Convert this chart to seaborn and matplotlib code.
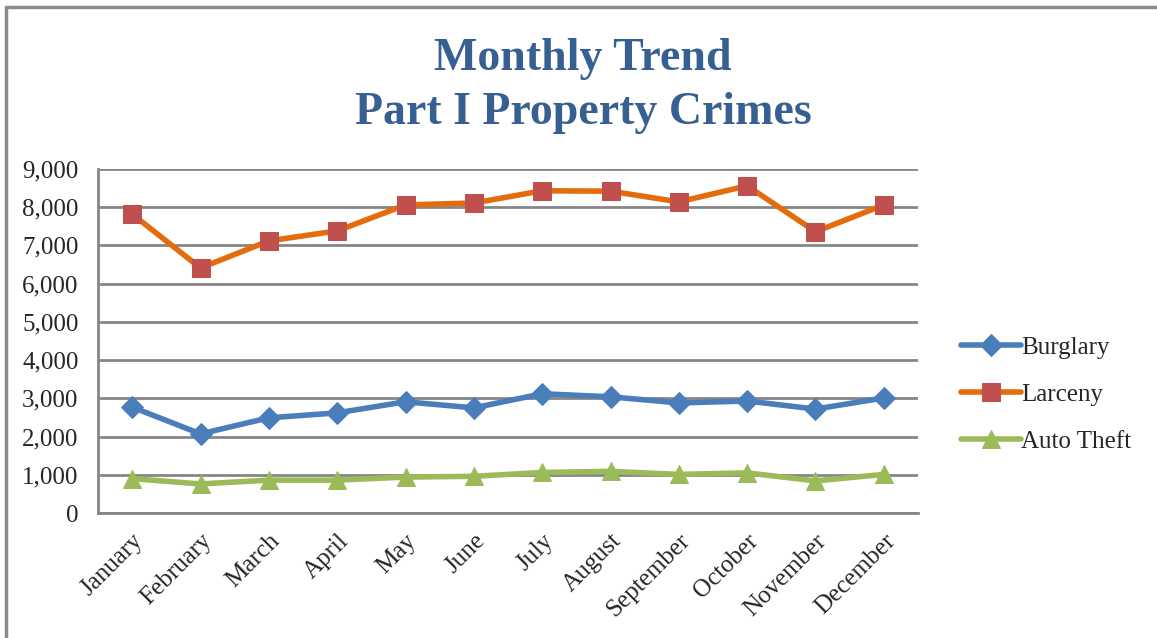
import matplotlib
matplotlib.use("Agg")
import matplotlib.pyplot as plt
from matplotlib.lines import Line2D
import seaborn as sns
import pandas as pd

meses = ['January', 'February', 'March', 'April', 'May', 'June', 'July',
         'August', 'September', 'October', 'November', 'December']
burglary = [2770, 2070, 2490, 2620, 2910, 2750, 3120, 3040, 2880, 2930, 2720, 3010]
larceny = [7820, 6410, 7120, 7380, 8060, 8110, 8430, 8420, 8140, 8560, 7360, 8060]
auto_theft = [900, 760, 860, 860, 940, 960, 1060, 1090, 1010, 1050, 840, 1010]
series = ['Burglary', 'Larceny', 'Auto Theft']

dados = pd.DataFrame({'Mes': meses, 'Burglary': burglary,
                      'Larceny': larceny, 'Auto Theft': auto_theft})
dados['pos'] = range(len(meses))
longo = dados.melt(id_vars=['Mes', 'pos'], value_vars=series,
                   var_name='Serie', value_name='Casos')

sns.set_theme(style="white")
plt.rcParams['font.family'] = ['Liberation Serif', 'DejaVu Serif']

# estilo de cada série: cor da linha, marcador, cor do marcador, tamanho
estilos = {
    'Burglary': ('#4a7ebb', 'D', '#4a7ebb', 11),
    'Larceny': ('#e46c0a', 's', '#c0504d', 13),
    'Auto Theft': ('#9bbb59', '^', '#9bbb59', 13),
}

fig = plt.figure(figsize=(11.57, 6.38), dpi=100)
ax = fig.add_axes([98 / 1157, 1 - 513 / 638, 820 / 1157, (513 - 169) / 638])

for s in series:
    cor, mk, cor_mk, tam = estilos[s]
    sns.lineplot(data=longo[longo['Serie'] == s], x='pos', y='Casos', ax=ax,
                 color=cor, linewidth=4, marker=mk, markersize=tam,
                 markerfacecolor=cor_mk, markeredgecolor=cor_mk,
                 label=s, zorder=3)

ax.set_xlim(-0.5, 11.5)
ax.set_ylim(0, 9000)
ax.set_yticks(range(0, 9001, 1000))
ax.set_yticklabels([f'{v:,}' for v in range(0, 9001, 1000)], fontsize=18)
ax.set_xticks(range(len(meses)))
ax.set_xticklabels(meses, rotation=45, ha='right', rotation_mode='anchor',
                   fontsize=18)
ax.tick_params(axis='x', pad=12, length=0)
ax.tick_params(axis='y', pad=14, length=0)
ax.set_xlabel('')
ax.set_ylabel('')
ax.yaxis.grid(True, color='#868686', linewidth=2)
ax.set_axisbelow(True)
for lado in ['top', 'right']:
    ax.spines[lado].set_visible(False)
for lado in ['left', 'bottom']:
    ax.spines[lado].set_color('#868686')
    ax.spines[lado].set_linewidth(2)

ax.legend(loc='center left', bbox_to_anchor=(1.025, 0.345), frameon=False,
          fontsize=18, handlelength=2.4, handletextpad=0.0, labelspacing=0.98)

fig.text(0.504, 0.907, 'Monthly Trend', ha='center', va='center',
         fontsize=33, fontweight='bold', color='#376092')
fig.text(0.504, 0.823, 'Part I Property Crimes', ha='center', va='center',
         fontsize=33, fontweight='bold', color='#376092')

# moldura do gráfico (só topo e esquerda aparecem)
fig.add_artist(Line2D([6 / 1157, 1.0], [1 - 7 / 638, 1 - 7 / 638],
                      color='#8c8c8c', linewidth=2.5))
fig.add_artist(Line2D([6 / 1157, 6 / 1157], [0.0, 1 - 7 / 638],
                      color='#8c8c8c', linewidth=2.5))

fig.savefig('out.png', dpi=100)
plt.close()
